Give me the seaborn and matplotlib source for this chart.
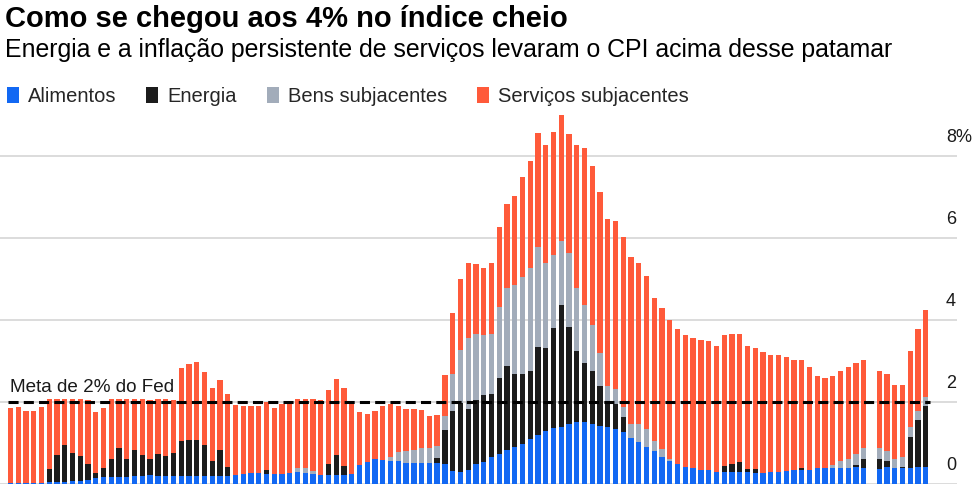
import numpy as np
import pandas as pd
import seaborn as sns
import matplotlib.pyplot as plt
from matplotlib.patches import Patch
from matplotlib.transforms import blended_transform_factory

# Contribuições ao CPI (pontos percentuais), jul/2016 a mai/2026; out/2025 sem dado
MESES = pd.period_range("2016-07", "2026-05", freq="M").astype(str).tolist()
MES_SEM_DADO = "2025-10"

alimentos = [
    .03, .03, .03, .03, .03, .04, .05, .06, .07, .08, .10, .15, .17, .17, .17, .17, .19, .20, .21, .20,
    .20, .20, .20, .20, .20, .19, .19, .19, .19, .21, .25, .27, .27, .24, .25, .25, .27, .30, .28, .25,
    .23, .22, .22, .22, .25, .47, .54, .62, .58, .57, .55, .52, .51, .51, .51, .51, .48, .31, .30, .35,
    .48, .54, .66, .74, .84, .90, .98, 1.10, 1.20, 1.29, 1.36, 1.40, 1.47, 1.52, 1.50, 1.46, 1.42, 1.39, 1.35, 1.27,
    1.13, 1.02, .90, .80, .66, .56, .48, .42, .38, .33, .33, .30, .30, .30, .30, .30, .28, .28, .30, .30,
    .31, .33, .33, .34, .39, .39, .40, .40, .40, .42, .39, np.nan, .36, .41, .39, .39, .40, .41, .41,
]
energia = [
    0, 0, 0, 0, 0, .32, .65, .90, .69, .60, .38, .13, .21, .43, .71, .45, .65, .50, .39, .54,
    .48, .56, .84, .88, .88, .75, .36, .63, .23, 0, 0, 0, 0, .11, 0, 0, 0, 0, 0, 0,
    0, .26, .48, .22, 0, 0, 0, 0, 0, 0, 0, 0, 0, 0, 0, .13, .83, 1.47, 1.67, 1.48,
    1.56, 1.62, 1.53, 1.85, 2.04, 1.79, 1.71, 1.66, 2.15, 2.02, 2.45, 2.96, 2.36, 1.73, 1.44, 1.30, .97, .62, .60, .36,
    0, 0, 0, 0, 0, 0, 0, 0, 0, 0, 0, 0, .14, .18, .24, .06, .08, 0, 0, 0,
    0, 0, .06, 0, 0, 0, 0, 0, 0, .04, .21, np.nan, .26, .14, 0, .03, .75, 1.16, 1.49,
]
bens = [
    0, 0, 0, 0, 0, 0, 0, 0, 0, 0, 0, 0, 0, 0, 0, 0, 0, 0, 0, 0,
    0, 0, 0, 0, 0, 0, 0, 0, 0, 0, 0, 0, 0, 0, 0, 0, 0, .09, .10, .06,
    0, 0, 0, 0, 0, 0, 0, 0, 0, .09, .22, .28, .32, .37, .37, .28, .35, .89, 1.30, 1.73,
    1.61, 1.47, 1.46, 1.73, 1.89, 2.16, 2.36, 2.51, 2.43, 2.07, 1.76, 1.55, 1.81, 1.52, 1.42, 1.12, .80, .39, .37, .24,
    .34, .45, .45, .26, .20, .06, 0, 0, 0, 0, 0, 0, 0, 0, 0, 0, 0, 0, 0, 0,
    0, 0, 0, 0, 0, 0, .06, .15, .22, .26, .28, np.nan, .26, .25, .23, .24, .24, .22, .23,
]
servicos = [
    1.82, 1.84, 1.76, 1.75, 1.84, 1.70, 1.37, 1.12, 1.31, 1.39, 1.57, 1.47, 1.48, 1.47, 1.20, 1.44, 1.23, 1.36, 1.45, 1.33,
    1.38, 1.28, 1.78, 1.84, 1.90, 1.80, 1.78, 1.71, 1.77, 1.72, 1.65, 1.63, 1.63, 1.66, 1.61, 1.69, 1.76, 1.69, 1.70, 1.77,
    1.81, 1.82, 1.85, 1.90, 1.70, 1.28, 1.17, 1.15, 1.32, 1.30, 1.14, 1.02, .99, .93, .78, .75, 1.00, 1.49, 1.73, 1.83,
    1.72, 1.64, 1.74, 1.94, 2.06, 2.18, 2.44, 2.59, 2.77, 2.87, 3.00, 3.08, 2.88, 3.48, 3.84, 3.87, 3.93, 4.07, 4.10, 4.15,
    4.07, 3.91, 3.73, 3.48, 3.44, 3.38, 3.29, 3.22, 3.19, 3.18, 3.16, 3.07, 3.20, 3.17, 3.12, 3.01, 2.95, 2.93, 2.85, 2.85,
    2.78, 2.70, 2.64, 2.52, 2.25, 2.20, 2.16, 2.20, 2.22, 2.22, 2.15, np.nan, 1.88, 1.88, 1.80, 1.76, 1.86, 1.98, 2.10,
]

SERIES = ["Alimentos", "Energia", "Bens subjacentes", "Serviços subjacentes"]
CORES = ["#1268f3", "#1c1c1c", "#a2acba", "#ff5a3a"]
Y_TICKS = [0, 2, 4, 6, 8]
META_FED = 2

df = pd.DataFrame({
    "mes": MESES,
    "Alimentos": alimentos,
    "Energia": energia,
    "Bens subjacentes": bens,
    "Serviços subjacentes": servicos,
})
df = df[df["mes"] != MES_SEM_DADO].reset_index(drop=True)
# topo acumulado de cada camada (ordem de empilhamento: alimentos embaixo)
cum = df[SERIES].cumsum(axis=1)
cum["mes"] = df["mes"]

sns.set_style("white")
plt.rcParams["font.family"] = ["Liberation Sans", "DejaVu Sans"]

W, H = 975, 484
fig = plt.figure(figsize=(W / 100, H / 100), dpi=100)
ax = fig.add_axes([0, 0, 957 / W, 374 / H])

# desenha do topo para a base, cada barra cobre a anterior
for serie, cor in reversed(list(zip(SERIES, CORES))):
    sns.barplot(data=cum, x="mes", y=serie, order=MESES, color=cor, saturation=1,
                width=0.68, errorbar=None, linewidth=0, ax=ax)

ax.set_xlim(-10.5 / 7.757, (957 - 10.5) / 7.757)
ax.set_ylim(1.5 / 41.2, 1.5 / 41.2 + 374 / 41.2)
ax.set_xticks([])
ax.set_yticks(Y_TICKS)
ax.set_yticklabels([])
ax.tick_params(length=0)
ax.set_xlabel("")
ax.set_ylabel("")
ax.yaxis.grid(True, color="#d2d2d2", linewidth=1.1)
ax.set_axisbelow(True)
for s in ax.spines.values():
    s.set_visible(False)

# rótulos do eixo y à direita, acima das linhas
tr = blended_transform_factory(ax.transAxes, ax.transData)
for v in Y_TICKS:
    lab = f"{v}%" if v == Y_TICKS[-1] else str(v)
    ax.text(946 / 957, v + 0.24, lab, transform=tr, ha="left", va="bottom",
            fontsize=13, color="#1a1a1a")

# meta do Fed
ax.hlines(META_FED, -0.32, 118.6, colors="black", linewidth=2.2,
          linestyles=(0, (3.3, 1.7)), zorder=5)
ax.text(-0.06, META_FED + 0.25, "Meta de 2% do Fed", fontsize=13.6,
        color="#1a1a1a", ha="left", va="baseline")

fig.text(5 / W, 1 - 27 / H, "Como se chegou aos 4% no índice cheio",
         fontsize=21, fontweight="bold", color="black", va="baseline")
fig.text(5 / W, 1 - 57 / H,
         "Energia e a inflação persistente de serviços levaram o CPI acima desse patamar",
         fontsize=17.9, color="black", va="baseline")

handles = [Patch(facecolor=c, edgecolor="none", label=s) for s, c in zip(SERIES, CORES)]
fig.legend(handles=handles, loc="upper left", bbox_to_anchor=(7 / W, 1 - 87 / H),
           ncol=4, frameon=False, fontsize=14.5, handlelength=0.58, handleheight=0.8,
           handletextpad=0.45, columnspacing=1.5, borderpad=0, borderaxespad=0)

fig.savefig("out.png", dpi=100)
